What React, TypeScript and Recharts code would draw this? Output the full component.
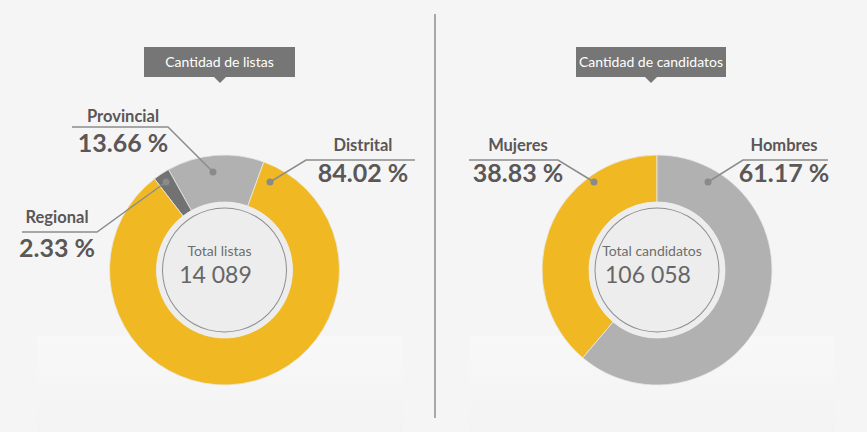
import { PieChart, Pie, Cell, Label } from 'recharts'

const listCategories = ['Provincial', 'Regional', 'Distrital']
const listPercents = [13.66, 2.33, 84.02]
const listColors = ['#b1b1b1', '#727272', '#f0b924']
const listTotal = '14 089'

const candCategories = ['Mujeres', 'Hombres']
const candPercents = [38.83, 61.17]
const candColors = ['#f0b924', '#b1b1b1']
const candTotal = '106 058'

const listData = listCategories.map((name, i) => ({ name, value: listPercents[i] }))
const candData = candCategories.map((name, i) => ({ name, value: candPercents[i] }))

const W = 867
const H = 432
const LEFT_CX = 219.5
const RIGHT_CX = 652
const CY = 265
const OUTER = 115
const INNER = 68
const TEXT = '#5b5757'
const LINE = '#8c8c8c'
const FONT = 'Lato, "Open Sans", sans-serif'

// callout placement for each slice (dot -> elbow -> end of rule, text centre)
const callouts: Record<string, { dot: number[]; elbow: number[]; end: number; ruleY: number; tx: number; nameY: number; valY: number }> = {
  Provincial: { dot: [213, 172], elbow: [168, 127], end: 72, ruleY: 127, tx: 123, nameY: 122, valY: 152 },
  Regional: { dot: [166, 182], elbow: [97, 232], end: 22, ruleY: 232, tx: 57, nameY: 223, valY: 257 },
  Distrital: { dot: [270, 182], elbow: [306, 160], end: 415, ruleY: 160, tx: 363, nameY: 151, valY: 182 },
  Mujeres: { dot: [594, 182], elbow: [558, 160], end: 469, ruleY: 160, tx: 518, nameY: 151, valY: 182 },
  Hombres: { dot: [708, 182], elbow: [743, 160], end: 828, ruleY: 160, tx: 784, nameY: 151, valY: 182 },
}

function Callout(props: any) {
  const name = props.name ?? props.payload?.name
  const c = callouts[name]
  if (!c) return null
  return (
    <g>
      <polyline
        points={`${c.dot[0]},${c.dot[1]} ${c.elbow[0]},${c.elbow[1]} ${c.end},${c.ruleY}`}
        fill="none"
        stroke={LINE}
        strokeWidth={1.5}
      />
      <circle cx={c.dot[0]} cy={c.dot[1]} r={3.5} fill="#8a8a8a" />
      <text x={c.tx} y={c.nameY} textAnchor="middle" fontFamily={FONT} fontWeight={700} fontSize={16.5} fill={TEXT}>
        {name}
      </text>
      <text x={c.tx} y={c.valY} textAnchor="middle" fontFamily={FONT} fontWeight={700} fontSize={25} fill={TEXT}>
        {`${Number(props.value).toFixed(2)} %`}
      </text>
    </g>
  )
}

function centerText(cx: number, title: string, total: string) {
  return () => (
    <g>
      <text x={cx} y={256} textAnchor="middle" fontFamily={FONT} fontSize={14} fill="#6e6e6e">
        {title}
      </text>
      <text x={cx - 4} y={283} textAnchor="middle" fontFamily={FONT} fontSize={23} fill="#666">
        {total}
      </text>
    </g>
  )
}

function TitleBox({ left, width, text }: { left: number; width: number; text: string }) {
  return (
    <div
      style={{
        position: 'absolute',
        left,
        top: 47,
        width,
        height: 30,
        background: '#767676',
        color: '#fff',
        fontFamily: FONT,
        fontSize: 14,
        lineHeight: '30px',
        textAlign: 'center',
        whiteSpace: 'nowrap',
      }}
    >
      {text}
      <div
        style={{
          position: 'absolute',
          left: width / 2 - 6,
          top: 30,
          width: 0,
          height: 0,
          borderLeft: '6px solid transparent',
          borderRight: '6px solid transparent',
          borderTop: '6px solid #767676',
        }}
      />
    </div>
  )
}

export default function App() {
  return (
    <div style={{ position: 'relative', width: W, height: H, background: '#f5f5f5', overflow: 'hidden' }}>
      <style>{`body{margin:0}`}</style>
      <div style={{ position: 'absolute', left: 37, top: 336, width: 366, height: 96, background: 'linear-gradient(#f8f8f8, #f3f3f3)' }} />
      <div style={{ position: 'absolute', left: 469, top: 336, width: 366, height: 96, background: 'linear-gradient(#f8f8f8, #f3f3f3)' }} />
      <div style={{ position: 'absolute', left: 434, top: 14, width: 2, height: 404, background: '#a8a8a8' }} />
      <div style={{ position: 'absolute', left: 0, top: 0 }}>
        <PieChart width={W} height={H}>
          <Pie
            data={listData}
            dataKey="value"
            nameKey="name"
            cx={LEFT_CX}
            cy={CY}
            innerRadius={INNER}
            outerRadius={OUTER}
            startAngle={70}
            endAngle={430}
            stroke="#e9e9e9"
            strokeWidth={0.8}
            label={Callout}
            labelLine={false}
            isAnimationActive={false}
          >
            {listData.map((d, i) => (
              <Cell key={d.name} fill={listColors[i]} />
            ))}
          </Pie>
          <Pie
            data={[{ name: 'disc', value: 1 }]}
            dataKey="value"
            cx={LEFT_CX}
            cy={CY}
            innerRadius={0}
            outerRadius={INNER}
            fill="#ededed"
            stroke="none"
            isAnimationActive={false}
          >
            <Label position="center" content={centerText(LEFT_CX, 'Total listas', listTotal)} />
          </Pie>
          <Pie
            data={[{ name: 'ring', value: 1 }]}
            dataKey="value"
            cx={LEFT_CX}
            cy={CY}
            innerRadius={61.5}
            outerRadius={62.5}
            fill="#8e8e8e"
            stroke="none"
            isAnimationActive={false}
          />

          <Pie
            data={candData}
            dataKey="value"
            nameKey="name"
            cx={RIGHT_CX}
            cy={CY}
            innerRadius={INNER}
            outerRadius={OUTER}
            startAngle={90}
            endAngle={450}
            stroke="#e9e9e9"
            strokeWidth={0.8}
            label={Callout}
            labelLine={false}
            isAnimationActive={false}
          >
            {candData.map((d, i) => (
              <Cell key={d.name} fill={candColors[i]} />
            ))}
          </Pie>
          <Pie
            data={[{ name: 'disc', value: 1 }]}
            dataKey="value"
            cx={RIGHT_CX}
            cy={CY}
            innerRadius={0}
            outerRadius={INNER}
            fill="#ededed"
            stroke="none"
            isAnimationActive={false}
          >
            <Label position="center" content={centerText(RIGHT_CX, 'Total candidatos', candTotal)} />
          </Pie>
          <Pie
            data={[{ name: 'ring', value: 1 }]}
            dataKey="value"
            cx={RIGHT_CX}
            cy={CY}
            innerRadius={61.5}
            outerRadius={62.5}
            fill="#8e8e8e"
            stroke="none"
            isAnimationActive={false}
          />
        </PieChart>
      </div>
      <TitleBox left={144} width={151} text="Cantidad de listas" />
      <TitleBox left={576} width={150} text="Cantidad de candidatos" />
    </div>
  )
}
